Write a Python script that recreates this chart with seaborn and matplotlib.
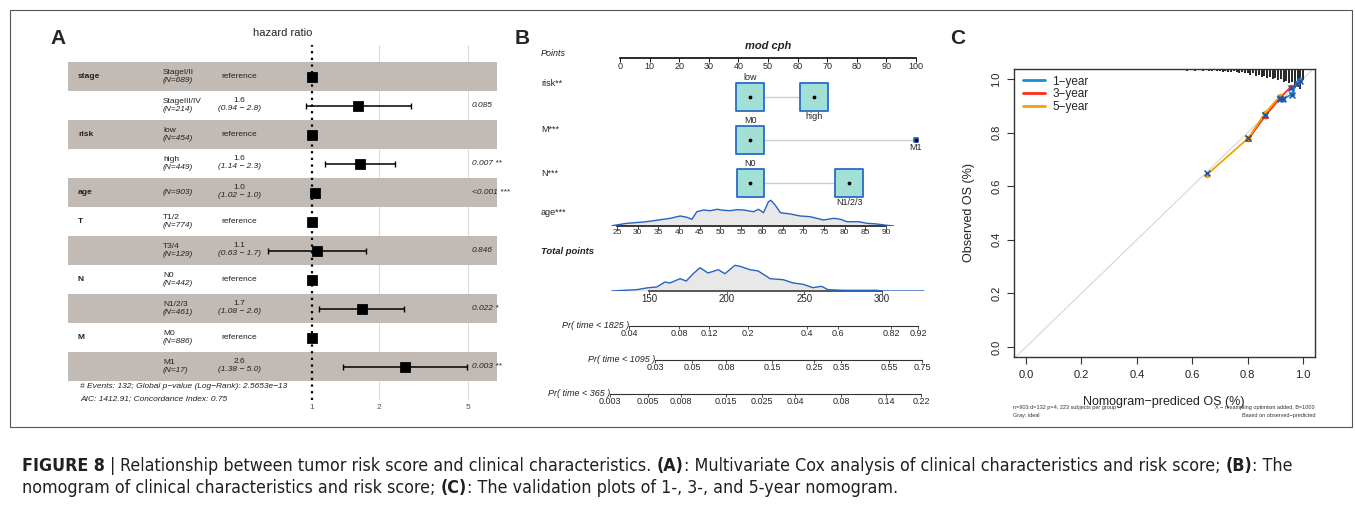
import numpy as np
import matplotlib
matplotlib.use("Agg")
import matplotlib.pyplot as plt
import seaborn as sns
from matplotlib import font_manager
from matplotlib.font_manager import FontProperties
from matplotlib.patches import Rectangle
from matplotlib.lines import Line2D
from matplotlib.ticker import NullLocator
from matplotlib.transforms import blended_transform_factory

# ---------------- panel A : multivariate cox ----------------
cox_vars = ["stage", "", "risk", "", "age", "T", "", "N", "", "M", ""]
cox_levels = ["StageI/II", "StageIII/IV", "low", "high", "", "T1/2", "T3/4",
              "N0", "N1/2/3", "M0", "M1"]
cox_n = [689, 214, 454, 449, 903, 774, 129, 442, 461, 886, 17]
cox_hr = [1.0, 1.61, 1.0, 1.64, 1.03, 1.0, 1.05, 1.0, 1.68, 1.0, 2.61]
cox_lo = [np.nan, 0.94, np.nan, 1.14, 1.02, np.nan, 0.635, np.nan, 1.07, np.nan, 1.38]
cox_hi = [np.nan, 2.78, np.nan, 2.36, 1.04, np.nan, 1.75, np.nan, 2.6, np.nan, 4.96]
cox_est = ["reference", "1.6", "reference", "1.6", "1.0", "reference", "1.1",
           "reference", "1.7", "reference", "2.6"]
cox_ci = ["", "(0.94 − 2.8)", "", "(1.14 − 2.3)", "(1.02 − 1.0)", "", "(0.63 − 1.7)",
          "", "(1.08 − 2.6)", "", "(1.38 − 5.0)"]
cox_p = ["", "0.085", "", "0.007 **", "<0.001 ***", "", "0.846", "", "0.022 *", "", "0.003 **"]
hr_ticks = [1, 2, 5]

# ---------------- panel B : nomogram ----------------
nomo_vars = ["risk**", "M***", "N***"]
nomo_levels = [["low", "high"], ["M0", "M1"], ["N0", "N1/2/3"]]
nomo_points = [[44, 65.5], [44, 100], [44, 77.4]]
nomo_n = [[454, 449], [886, 17], [442, 461]]

age_grid = [23.8, 27.4, 31.4, 33.9, 35.0, 37.9, 40.3, 41.9, 43.1, 44.3, 45.9, 47.5,
            49.2, 50.8, 52.4, 54.0, 55.6, 57.0, 58.0, 59.2, 60.4, 61.6, 62.2, 63.2,
            64.5, 66.9, 69.3, 71.7, 74.9, 77.4, 79.0, 80.6, 83.4, 85.4, 87.8, 90.2, 91.9]
age_dens = [0.3, 2.7, 4.0, 5.3, 6.0, 7.7, 10.0, 8.7, 6.7, 14.3, 16.0, 15.3,
            16.7, 15.7, 15.3, 16.3, 16.0, 15.0, 14.3, 16.7, 13.3, 24.3, 25.7, 21.0,
            13.3, 12.0, 10.0, 9.3, 6.0, 7.7, 6.7, 4.3, 4.3, 2.7, 2.0, 0.7, 0.0]

total_grid = [126, 142, 149.6, 155, 160.3, 163.5, 170, 174, 178.5, 182.8, 188, 194.6,
              198.9, 205.3, 208.5, 215, 220.3, 228, 236.4, 242.8, 249.2, 255.6, 261,
              265.3, 275, 285.6, 296.4, 300, 307, 317.8, 327]
total_dens = [0.0, 1.3, 3.3, 4.0, 9.0, 8.0, 12.3, 10.0, 17.3, 23.3, 18.0, 21.3,
              17.3, 25.7, 24.7, 21.3, 20.0, 12.3, 11.3, 8.0, 6.7, 3.3, 4.7,
              1.3, 0.7, 0.7, 0.7, 0.0, 0.0, 0.0, 0.0]

pr_labels = ["Pr( time < 1825 )", "Pr( time < 1095 )", "Pr( time < 365 )"]
pr_ticklabels = [
    ["0.04", "0.08", "0.12", "0.2", "0.4", "0.6", "0.82", "0.92"],
    ["0.03", "0.05", "0.08", "0.15", "0.25", "0.35", "0.55", "0.75"],
    ["0.003", "0.005", "0.008", "0.015", "0.025", "0.04", "0.08", "0.14", "0.22"],
]
pr_points = [
    [137.1, 169.3, 188.6, 213.7, 251.7, 271.7, 305.8, 323.2],
    [153.9, 177.7, 199.6, 229.2, 256.2, 273.6, 304.5, 325.8],
    [124.9, 149.4, 170.6, 199.6, 222.7, 244.0, 273.6, 302.6, 325.1],
]

# ---------------- panel C : calibration ----------------
cal_labels = ["1−year", "3−year", "5−year"]
cal_colors = ["#1a8fd0", "#ff2a1a", "#f0a500"]
cal_pred = [[0.929, 0.959, 0.977, 0.989],
            [0.803, 0.863, 0.917, 0.957],
            [0.652, 0.803, 0.863, 0.917]]
cal_obs = [[0.925, 0.943, 0.984, 0.996],
           [0.776, 0.862, 0.930, 0.971],
           [0.642, 0.780, 0.873, 0.936]]
cal_corr = [[0.925, 0.940, 0.981, 0.992],
            [0.779, 0.865, 0.925, 0.965],
            [0.648, 0.779, 0.866, 0.930]]
rug_x = np.round(np.arange(0.40, 1.001, 0.01), 2)
rug_count = [0, 1, 0, 0, 1, 0, 1, 0, 1, 1,
             1, 0, 1, 1, 1, 0, 1, 1, 2, 1,
             1, 2, 1, 1, 2, 1, 2, 2, 1, 2,
             2, 3, 2, 3, 3, 2, 3, 4, 3, 4,
             4, 5, 4, 6, 5, 7, 6, 8, 7, 9,
             8, 10, 9, 12, 11, 13, 12, 15, 16, 18, 10]

caption1 = [("FIGURE 8", True, 0), ("|", False, 1),
            ("Relationship between tumor risk score and clinical characteristics.", False, 1),
            ("(A)", True, 1), (": Multivariate Cox analysis of clinical characteristics and risk score;", False, 0),
            ("(B)", True, 1), (": The", False, 0)]
caption2 = [("nomogram of clinical characteristics and risk score;", False, 0),
            ("(C)", True, 1), (": The validation plots of 1-, 3-, and 5-year nomogram.", False, 0)]

# ---------------- figure ----------------
sns.set_theme(style="white")
plt.rcParams["font.family"] = ["Liberation Sans", "DejaVu Sans"]
W, H = 1355, 505
fig = plt.figure(figsize=(W / 100, H / 100), dpi=100)


def px_rect(x0, y0, x1, y1):
    return [x0 / W, 1 - y1 / H, (x1 - x0) / W, (y1 - y0) / H]


def ftxt(x, y, s, **kw):
    return fig.text(x / W, 1 - y / H, s, **kw)


def clean(ax):
    for sp in ax.spines.values():
        sp.set_visible(False)
    ax.set_yticks([])
    ax.set_facecolor("none")


def scale_axes(y_top, y_base, px0, v0, px1, v1, x_left=596, x_right=935):
    ax = fig.add_axes(px_rect(x_left, y_top, x_right, y_base))
    k = (v1 - v0) / (px1 - px0)
    ax.set_xlim(v0 + (x_left - px0) * k, v0 + (x_right - px0) * k)
    clean(ax)
    return ax


# frame around panels
fig.patches.append(Rectangle((10 / W, 1 - 427 / H), 1342 / W, 417 / H, fill=False,
                             edgecolor="#555555", lw=0.8, transform=fig.transFigure))

ink = "#222222"
# ===== A =====
ftxt(58, 38, "A", fontsize=15, fontweight="bold", ha="center", va="center")
ftxt(283, 33, "hazard ratio", fontsize=8, ha="center", va="center", color=ink)
axA = fig.add_axes(px_rect(68, 45, 497, 400))
axA.set_xscale("log")
axA.set_xlim(0.0805, 6.76)
axA.set_ylim(11.14, -1.10)
clean(axA)
rows = np.arange(len(cox_hr))
for i in rows[::2]:
    axA.axhspan(i - 0.5, i + 0.5, color="#c1bab5", lw=0, zorder=1)
for t in hr_ticks[1:]:
    axA.axvline(t, color="#dcdcdc", lw=0.8, zorder=0)
axA.axvline(1, color="black", ls=(0, (1, 2)), lw=1.6, zorder=3)
hr = np.array(cox_hr)
lo, hi = np.array(cox_lo), np.array(cox_hi)
axA.errorbar(hr, rows, xerr=[hr - lo, hi - hr], fmt="none", ecolor="black",
             elinewidth=1.1, capsize=2, capthick=1.0, zorder=4)
sns.scatterplot(x=hr, y=rows, marker="s", s=48, color="black", edgecolor="black",
                ax=axA, zorder=5, legend=False)
axA.set_xticks(hr_ticks)
axA.set_xticklabels([str(t) for t in hr_ticks])
axA.xaxis.set_minor_locator(NullLocator())
axA.tick_params(axis="x", length=0, pad=3, labelsize=6, labelcolor="#555555")
tA = blended_transform_factory(fig.transFigure, axA.transData)
for i in rows:
    axA.text(78 / W, i, cox_vars[i], transform=tA, fontsize=6, fontweight="bold",
             va="center", color=ink)
    nlab = "(N=%d)" % cox_n[i]
    if cox_levels[i]:
        axA.text(163 / W, i - 0.15, cox_levels[i], transform=tA, fontsize=6,
                 va="center", color=ink)
        axA.text(163 / W, i + 0.13, nlab, transform=tA, fontsize=6, style="italic",
                 va="center", color=ink)
    else:
        axA.text(163 / W, i, nlab, transform=tA, fontsize=6, style="italic",
                 va="center", color=ink)
    if cox_ci[i]:
        axA.text(239 / W, i - 0.19, cox_est[i], transform=tA, fontsize=6,
                 ha="center", va="center", color=ink)
        axA.text(239 / W, i + 0.1, cox_ci[i], transform=tA, fontsize=6, style="italic",
                 ha="center", va="center", color=ink)
    else:
        axA.text(239 / W, i, cox_est[i], transform=tA, fontsize=6,
                 ha="center", va="center", color=ink)
    if cox_p[i]:
        axA.text(472 / W, i, cox_p[i], transform=tA, fontsize=6, style="italic",
                 va="center", color=ink)
ftxt(80, 386, "# Events: 132; Global p−value (Log−Rank): 2.5653e−13", fontsize=6,
     style="italic", va="center", color=ink)
ftxt(80, 399, "AIC: 1412.91; Concordance Index: 0.75", fontsize=6,
     style="italic", va="center", color=ink)

# ===== B =====
ftxt(522, 38, "B", fontsize=15, fontweight="bold", ha="center", va="center")
ftxt(768, 46, "mod cph", fontsize=8, fontweight="bold", style="italic",
     ha="center", va="center", color=ink)
ftxt(541, 54, "Points", fontsize=6.5, style="italic", va="center", color=ink)

axP = scale_axes(40, 58, 620, 0, 916, 100)
axP.spines["bottom"].set_visible(True)
axP.spines["bottom"].set_bounds(0, 100)
axP.spines["bottom"].set_color("#111111")
axP.set_xticks(np.arange(0, 101, 10))
axP.tick_params(axis="x", length=3, width=0.7, pad=0, labelsize=6.5, direction="out",
                bottom=True, color="#111111")

axL = scale_axes(62, 200, 620, 0, 916, 100)
axL.set_xticks([])
axL.set_ylim(200, 62)
row_y = [97, 140, 183]
label_y = [83, 129, 174]
box_face, box_edge = "#a2e0d5", "#2a6cc6"
for r, var in enumerate(nomo_vars):
    y = row_y[r]
    ftxt(541, label_y[r], var, fontsize=6.5, va="center", color=ink)
    pts = nomo_points[r]
    ns = np.array(nomo_n[r], dtype=float)
    sizes = 400 * ns / ns.max()
    axL.plot(pts, [y, y], color="#cccccc", lw=1.0, zorder=1)
    axL.scatter(pts, [y, y], s=sizes, marker="s", facecolor=box_face,
                edgecolor=box_edge, linewidth=1.3, zorder=2, clip_on=False)
    axL.scatter(pts, [y, y], s=3, color="black", zorder=3, clip_on=False)
    for j, lev in enumerate(nomo_levels[r]):
        half = np.sqrt(sizes[j]) * 100 / 72 / 2
        if j == 0:
            axL.text(pts[j], y - half - 1, lev, fontsize=6.5, ha="center", va="bottom",
                     color=ink)
        else:
            axL.text(pts[j], y + half + 1, lev, fontsize=6.5, ha="center", va="top",
                     color=ink)

blue_line = "#2563c0"
ftxt(541, 213, "age***", fontsize=6.5, va="center", color=ink)
axAge = scale_axes(178, 226, 617, 25, 886, 90)
axAge.set_ylim(0, 48)
axAge.fill_between(age_grid, 0, age_dens, color="#e8e8e8", lw=0, zorder=1)
sns.lineplot(x=age_grid, y=age_dens, color=blue_line, lw=1.0, ax=axAge, zorder=3)
axAge.spines["bottom"].set_visible(True)
axAge.spines["bottom"].set_bounds(25, 90)
axAge.spines["bottom"].set_color("#222222")
axAge.set_xticks(np.arange(25, 91, 5))
axAge.tick_params(axis="x", length=2, width=0.6, pad=0.5, labelsize=6, bottom=True,
                  color="#222222")
axAge.set_xlabel("")
axAge.set_ylabel("")

ftxt(541, 252, "Total points", fontsize=6.8, fontweight="bold", style="italic",
     va="center", color=ink)
axT = scale_axes(248, 291, 649, 150, 882, 300)
axT.set_ylim(0, 43)
axT.fill_between(total_grid, 0, total_dens, color="#e8e8e8", lw=0, zorder=1)
sns.lineplot(x=total_grid, y=total_dens, color=blue_line, lw=1.0, ax=axT, zorder=3)
axT.spines["bottom"].set_visible(True)
axT.spines["bottom"].set_bounds(150, 300)
axT.spines["bottom"].set_color("#444444")
axT.set_xticks([150, 200, 250, 300])
axT.tick_params(axis="x", length=2, width=0.6, pad=0.5, labelsize=7, bottom=True,
                color="#444444")
axT.set_xlabel("")
axT.set_ylabel("")

for r, lab in enumerate(pr_labels):
    yl = [326, 360, 394][r]
    axR = scale_axes(yl - 10, yl, 649, 150, 882, 300)
    pos = pr_points[r]
    axR.spines["bottom"].set_visible(True)
    axR.spines["bottom"].set_bounds(pos[0], pos[-1])
    axR.spines["bottom"].set_color("#333333")
    axR.spines["bottom"].set_linewidth(0.8)
    axR.set_xticks(pos)
    axR.set_xticklabels(pr_ticklabels[r])
    axR.tick_params(axis="x", length=2, width=0.6, pad=0.5, labelsize=6.5, bottom=True,
                    color="#333333")
    axR.text(pos[0], 0.1, lab, fontsize=6.5, style="italic", ha="right", va="center",
             color=ink)

# ===== C =====
ftxt(958, 38, "C", fontsize=15, fontweight="bold", ha="center", va="center")
axC = fig.add_axes(px_rect(1014, 69, 1315, 357))
axC.set_xlim(-0.043, 1.043)
axC.set_ylim(-0.037, 1.037)
for sp in axC.spines.values():
    sp.set_color("#333333")
    sp.set_linewidth(1.0)
axC.axline((0, 0), slope=1, color="#d6d6d6", lw=0.8, zorder=1)
tC = blended_transform_factory(axC.transData, axC.transAxes)
rug_h = np.array(rug_count) * 1.1 / 288
axC.vlines(rug_x, 1 - rug_h, 1, transform=tC, color="black", lw=1.2, zorder=2)
for k in range(3):
    sns.lineplot(x=cal_pred[k], y=cal_obs[k], color=cal_colors[k], lw=1.3,
                 marker="o", markersize=4, markeredgewidth=0, ax=axC, zorder=3,
                 sort=False)
    axC.scatter(cal_pred[k], cal_corr[k], marker="x", s=18, color="#2452a8",
                lw=1.1, zorder=4)
ticks = [0.0, 0.2, 0.4, 0.6, 0.8, 1.0]
axC.set_xticks(ticks)
axC.set_yticks(ticks)
axC.set_xticklabels(["%.1f" % t for t in ticks])
axC.set_yticklabels(["%.1f" % t for t in ticks], rotation=90, va="center")
axC.tick_params(axis="both", length=5, width=0.8, labelsize=8, color="#333333",
                labelcolor=ink, bottom=True, left=True, pad=4)
axC.set_xlabel("")
axC.set_ylabel("")
ftxt(969, 213, "Observed OS (%)", fontsize=9, rotation=90, ha="center", va="center",
     color=ink)
ftxt(1164, 402, "Nomogram−prediced OS (%)", fontsize=9, ha="center", va="center",
     color=ink)
ftxt(1013, 408, "n=903 d=132 p=4, 223 subjects per group", fontsize=4, va="center",
     color="#333333")
ftxt(1013, 416, "Gray: ideal", fontsize=4, va="center", color="#333333")
ftxt(1315, 408, "X − resampling optimism added, B=1000", fontsize=4, ha="right",
     va="center", color="#333333")
ftxt(1315, 416, "Based on observed−predicted", fontsize=4, ha="right", va="center",
     color="#333333")
handles = [Line2D([0], [0], color=c, lw=2) for c in cal_colors]
axC.legend(handles, cal_labels, loc="upper left", bbox_to_anchor=(0.03, 0.977),
           frameon=False, borderaxespad=0, borderpad=0, handlelength=1.9,
           handletextpad=0.6, labelspacing=0.05, fontsize=8.5)

# ===== caption =====
# look for a condensed sans face; fall back to Liberation Sans
cond = {}
for f in font_manager.fontManager.ttflist:
    nm = f.name.lower()
    narrow = ("narrow" in nm or "condensed" in nm or "condensed" in str(f.stretch)
              or "condensed" in f.fname.lower())
    if not narrow or f.style != "normal":
        continue
    if "extra" in f.fname.lower() or "ultra" in f.fname.lower() or "semi" in f.fname.lower():
        continue
    w = f.weight if isinstance(f.weight, int) else {"normal": 400, "regular": 400,
                                                       "bold": 700}.get(str(f.weight), 400)
    key = "bold" if w == 700 else ("regular" if w == 400 else None)
    if key is None:
        continue
    rank = 0 if "liberation" in nm else (1 if "noto sans" in nm and "mono" not in nm
                                         else (2 if "dejavu sans" in nm and "mono" not in nm else 9))
    if rank == 9:
        continue
    if key not in cond or rank < cond[key][0]:
        cond[key] = (rank, f.fname)

if "regular" in cond and "bold" in cond:
    cap_props = {False: FontProperties(fname=cond["regular"][1]),
                 True: FontProperties(fname=cond["bold"][1])}
else:
    cap_props = {False: FontProperties(family="Liberation Sans"),
                 True: FontProperties(family="Liberation Sans", weight="bold")}
renderer = fig.canvas.get_renderer()


def cap_fp(bold, size):
    fp = cap_props[bold].copy()
    fp.set_size(size)
    return fp


def text_width(s, size, bold):
    t = fig.text(0, 0, s, fontproperties=cap_fp(bold, size))
    w = t.get_window_extent(renderer).width
    t.remove()
    return w


def line_width(pieces, size):
    sp = text_width("a a", size, False) - text_width("aa", size, False)
    return sum(text_width(s, size, b) + g * sp for s, b, g in pieces)


cap_size = 11 * 1268 / line_width(caption1, 11)


def draw_caption(pieces, y_px):
    sp = text_width("a a", cap_size, False) - text_width("aa", cap_size, False)
    x = 22
    for s, b, g in pieces:
        x += g * sp
        ftxt(x, y_px, s, fontproperties=cap_fp(b, cap_size), va="center",
             color="#231f20")
        x += text_width(s, cap_size, b)


draw_caption(caption1, 466)
draw_caption(caption2, 488)

fig.savefig("out.png", dpi=100)
